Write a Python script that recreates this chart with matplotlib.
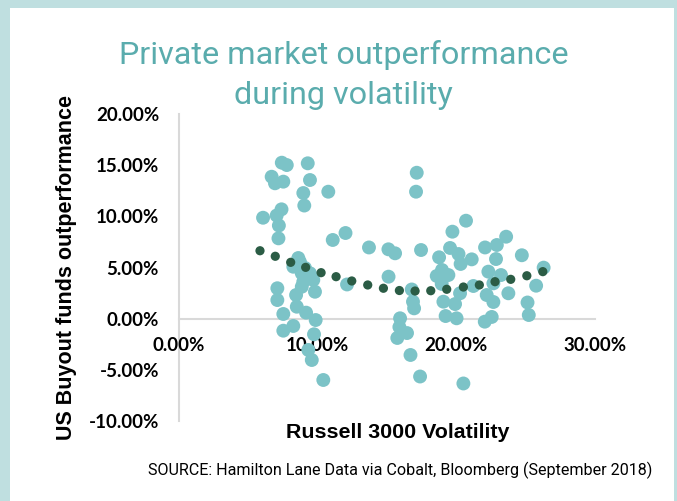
import matplotlib
matplotlib.use("Agg")
import matplotlib.pyplot as plt
from matplotlib.patches import Rectangle
from matplotlib.ticker import FuncFormatter

# Scatter data: Russell 3000 volatility (%) vs US buyout outperformance (%)
vol_x = [7.44, 7.80, 9.31, 6.71, 6.95, 7.55, 9.47, 8.99, 10.79, 9.06,
         6.09, 7.42, 7.07, 7.23, 7.20, 11.11, 12.03, 13.72, 12.14, 8.63,
         8.75, 8.27, 8.88, 9.47, 8.99, 9.71, 9.83, 8.88, 7.12, 7.12,
         8.47, 8.52, 9.19, 9.88, 7.55, 8.27, 7.55, 9.76, 9.35, 9.60,
         10.43, 9.11, 15.12, 15.60, 17.47, 18.77, 15.13, 17.16, 17.11, 16.80,
         16.89, 16.97, 15.96, 15.91, 16.46, 15.76, 16.71, 17.40, 20.52, 20.71,
         19.73, 19.56, 20.17, 20.32, 21.12, 18.60, 19.44, 18.96, 20.28, 19.08,
         19.92, 19.24, 20.03, 21.24, 18.98, 22.08, 22.93, 23.60, 22.87, 24.73,
         26.30, 22.32, 23.23, 22.68, 25.76, 23.76, 22.20, 22.68, 25.14, 25.23,
         22.56, 22.06]
outperf_y = [15.23, 15.00, 15.17, 13.86, 13.22, 13.38, 13.54, 12.27, 12.40, 11.05,
             9.86, 10.68, 10.08, 9.10, 7.85, 7.69, 8.37, 6.96, 3.35, 5.93,
             5.54, 5.08, 4.44, 4.44, 3.62, 3.79, 2.64, 3.13, 2.98, 1.83,
             2.32, 1.18, 0.60, -0.12, 0.47, -0.70, -1.16, -1.51, -3.04, -4.02,
             -5.97, 4.96, 6.78, 6.39, 6.71, 6.00, 4.11, 14.25, 12.40, 2.86,
             1.67, 1.02, 0.05, -0.80, -1.39, -1.87, -3.53, -5.63, -6.31, 9.57,
             8.50, 6.91, 6.32, 5.35, 5.80, 4.18, 4.27, 3.40, 2.49, 1.67,
             1.44, 0.27, 0.05, 3.20, 4.76, 6.96, 7.20, 8.01, 5.83, 6.20,
             4.99, 4.60, 4.27, 3.46, 3.23, 2.49, 2.32, 1.64, 1.59, 0.37,
             0.18, -0.28]

# Trendline (dotted) points
trend_x = [5.87, 6.97, 8.08, 9.16, 10.27, 11.35, 12.48, 13.63, 14.76, 15.91,
           17.04, 18.17, 19.32, 20.52, 21.67, 22.80, 23.93, 25.09, 26.24]
trend_y = [6.64, 6.10, 5.51, 5.02, 4.50, 4.11, 3.69, 3.30, 2.98, 2.76,
           2.71, 2.74, 2.88, 3.10, 3.30, 3.62, 3.85, 4.20, 4.60]

x_ticks = [0, 10, 20, 30]
y_ticks = [-10, -5, 0, 5, 10, 15, 20]

title_lines = ["Private market outperformance", "during volatility"]
x_title = "Russell 3000 Volatility"
y_title = "US Buyout funds outperformance"
source = "SOURCE: Hamilton Lane Data via Cobalt, Bloomberg (September 2018)"

W, H = 677, 501
fig = plt.figure(figsize=(W / 100, H / 100), dpi=100)
fig.patch.set_facecolor("#bfdfe0")
fig.patches.append(Rectangle((10 / W, 0), (673.5 - 10) / W, 1 - 8 / H,
                             transform=fig.transFigure, facecolor="white",
                             edgecolor="none", zorder=-5))

ax = fig.add_axes([178.5 / W, 1 - 421.3 / H, (595 - 178.5) / W, (421.3 - 113.8) / H])
ax.set_zorder(2)
ax.set_facecolor("none")
ax.set_xlim(0, 30)
ax.set_ylim(-10, 20)
ax.set_axisbelow(True)

for s in ["top", "right"]:
    ax.spines[s].set_visible(False)
ax.spines["left"].set_color("#d9d9d9")
ax.spines["left"].set_linewidth(1.5)
ax.spines["bottom"].set_position(("data", 0))
ax.spines["bottom"].set_color("#d9d9d9")
ax.spines["bottom"].set_linewidth(1.5)
for s in ax.spines.values():
    s.set_zorder(0.5)

ax.set_xticks(x_ticks)
ax.set_yticks(y_ticks)
pct = FuncFormatter(lambda v, p: f"{v:.2f}%")
ax.xaxis.set_major_formatter(pct)
ax.yaxis.set_major_formatter(pct)
ax.tick_params(axis="both", length=0, labelcolor="black")
ax.tick_params(axis="x", pad=13)
ax.tick_params(axis="y", pad=14)
for lab in ax.get_xticklabels() + ax.get_yticklabels():
    lab.set_fontfamily("Lato")
    lab.set_fontweight("bold")
    lab.set_fontsize(13.5)

ax.scatter(vol_x, outperf_y, s=100, color="#7cc3c7", edgecolors="none", zorder=3)
ax.scatter(trend_x, trend_y, s=44, color="#2b5c45", edgecolors="none", zorder=4)

fig.text(0.508, 1 - 55 / H, title_lines[0], ha="center", va="center",
         fontfamily="Roboto", fontsize=23.3, color="#5aacad")
fig.text(0.508, 1 - 96 / H, title_lines[1], ha="center", va="center",
         fontfamily="Roboto", fontsize=23.3, color="#5aacad")

fig.text(67 / W, 1 - 267 / H, y_title, rotation=90, ha="center", va="center",
         fontfamily="Liberation Sans", fontweight="bold", fontsize=15.5, color="black")
fig.text(398 / W, 1 - 432 / H, x_title, ha="center", va="center",
         fontfamily="Liberation Sans", fontweight="bold", fontsize=15.4, color="black")
fig.text(400 / W, 1 - 470 / H, source, ha="center", va="center",
         fontfamily="Roboto", fontsize=11.6, color="black")

fig.savefig("out.png", dpi=100)
